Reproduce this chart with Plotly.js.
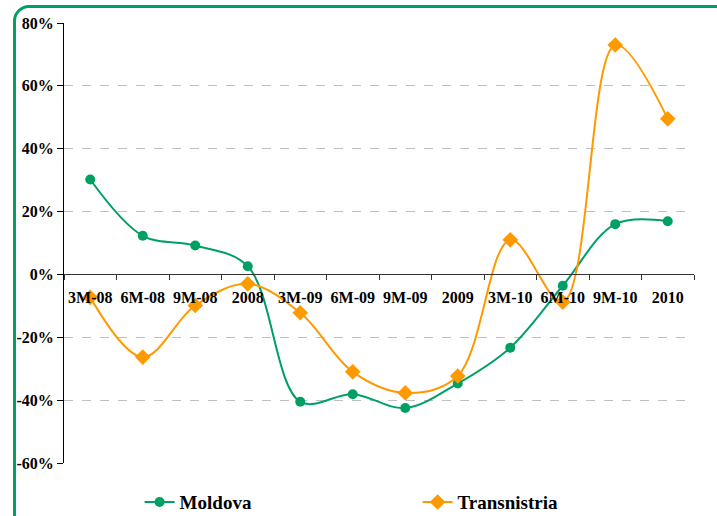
<!DOCTYPE html>
<html><head><meta charset="utf-8">
<script src="https://cdn.plot.ly/plotly-3.0.1.min.js"></script>
<style>
html,body{margin:0;padding:0;background:#fff;overflow:hidden;}
#frame{position:absolute;left:13px;top:5px;width:720px;height:540px;border:3px solid #00A065;border-radius:16px;box-sizing:border-box;}
#chart{position:absolute;left:0;top:0;width:717px;height:516px;}
</style></head>
<body>
<div id="frame"></div>
<div id="chart"></div>
<script>
const categories = ["3M-08","6M-08","9M-08","2008","3M-09","6M-09","9M-09","2009","3M-10","6M-10","9M-10","2010"];
const moldova = [30.2, 12.3, 9.2, 2.6, -40.5, -38.1, -42.5, -34.7, -23.3, -3.6, 16.0, 16.9];
const transnistria = [-7.3, -26.3, -9.9, -3.0, -12.2, -31.0, -37.7, -32.3, 11.0, -8.8, 73.0, 49.5];
const yTicks = [-60,-40,-20,0,20,40,60,80];
const yLabels = ["-60%","-40%","-20%","0%","20%","40%","60%","80%"];

const FAM = "'Liberation Serif', 'Times New Roman', 'DejaVu Serif', serif";
const traces = [
  {x:categories, y:moldova, name:"Moldova", type:"scatter", mode:"lines+markers",
   line:{color:"#00A065", width:2, shape:"spline", smoothing:1},
   marker:{symbol:"circle", size:10, color:"#00A065"}},
  {x:categories, y:transnistria, name:"Transnistria", type:"scatter", mode:"lines+markers",
   line:{color:"#FF9900", width:2, shape:"spline", smoothing:1},
   marker:{symbol:"diamond", size:12, color:"#FF9900"}}
];
const layout = {
  width:717, height:516,
  margin:{l:64, r:23, t:23, b:53, autoexpand:false},
  paper_bgcolor:"rgba(0,0,0,0)", plot_bgcolor:"rgba(0,0,0,0)",
  font:{family:FAM},
  showlegend:true,
  legend:{orientation:"h", x:0.12, xanchor:"left", y:-0.089, yanchor:"middle",
    font:{family:FAM, size:19, color:"#000", weight:"bold"},
    entrywidth:233, entrywidthmode:"pixels"},
  xaxis:{type:"category", anchor:"free", position:60/140, range:[-0.5, 11.5], autorange:false,
    showline:true, linecolor:"#333", linewidth:1,
    ticks:"outside", ticklen:5, tickcolor:"#333", tickson:"boundaries",
    ticklabelstandoff:8, tickangle:0,
    tickfont:{family:FAM, size:16, color:"#000", weight:"bold"},
    showgrid:false, zeroline:false, fixedrange:true},
  yaxis:{range:[-60,80], tickvals:yTicks, ticktext:yLabels,
    showline:true, linecolor:"#000", linewidth:1,
    ticks:"outside", ticklen:6, tickcolor:"#000",
    tickfont:{family:FAM, size:16, color:"#000", weight:"bold"},
    showgrid:true, gridcolor:"#BFBFBF", griddash:"dash", gridwidth:1,
    zeroline:false, fixedrange:true}
};
Plotly.newPlot("chart", traces, layout, {displayModeBar:false, staticPlot:true});
</script>
</body></html>
